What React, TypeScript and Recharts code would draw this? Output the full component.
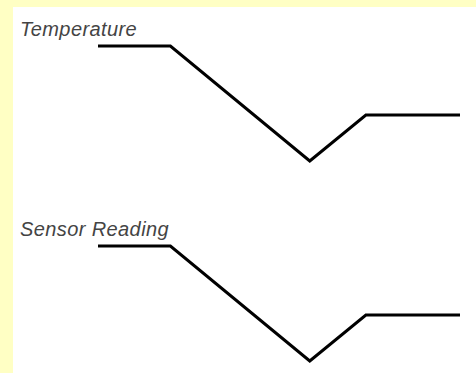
import { LineChart, Line, XAxis, YAxis } from 'recharts'

const times = [0, 2, 5.85, 7.4, 10]
const temperature = [100, 100, 0, 40, 40]
const sensorReading = [100, 100, 0, 40, 40]
const titles = ['Temperature', 'Sensor Reading']

const tempData = times.map((t, i) => ({ t, v: temperature[i] }))
const sensorData = times.map((t, i) => ({ t, v: sensorReading[i] }))

function Panel({ title, data, top }: { title: string; data: { t: number; v: number }[]; top: number }) {
  return (
    <div style={{ position: 'absolute', left: 0, top, width: 463, height: 200 }}>
      <div
        style={{
          position: 'absolute',
          left: 7,
          top: 13,
          fontFamily: '"Liberation Sans", Arial, sans-serif',
          fontStyle: 'italic',
          fontSize: 20,
          letterSpacing: 0.4,
          lineHeight: '19px',
          color: '#444',
          whiteSpace: 'nowrap',
        }}
      >
        {title}
      </div>
      <LineChart width={463} height={200} data={data} margin={{ top: 39, right: 16, bottom: 46, left: 85 }}>
        <XAxis type="number" dataKey="t" domain={[0, 10]} hide />
        <YAxis type="number" domain={[0, 100]} hide />
        <Line
          type="linear"
          dataKey="v"
          stroke="#000"
          strokeWidth={3}
          strokeLinejoin="miter"
          dot={false}
          activeDot={false}
          isAnimationActive={false}
        />
      </LineChart>
    </div>
  )
}

export default function App() {
  return (
    <div style={{ position: 'absolute', left: 0, top: 0, width: 476, height: 373, background: '#ffffc4', overflow: 'hidden' }}>
      <div style={{ position: 'absolute', left: 13, top: 7, width: 463, height: 366, background: '#fff', overflow: 'hidden' }}>
        <Panel title={titles[0]} data={tempData} top={0} />
        <Panel title={titles[1]} data={sensorData} top={200} />
      </div>
    </div>
  )
}
